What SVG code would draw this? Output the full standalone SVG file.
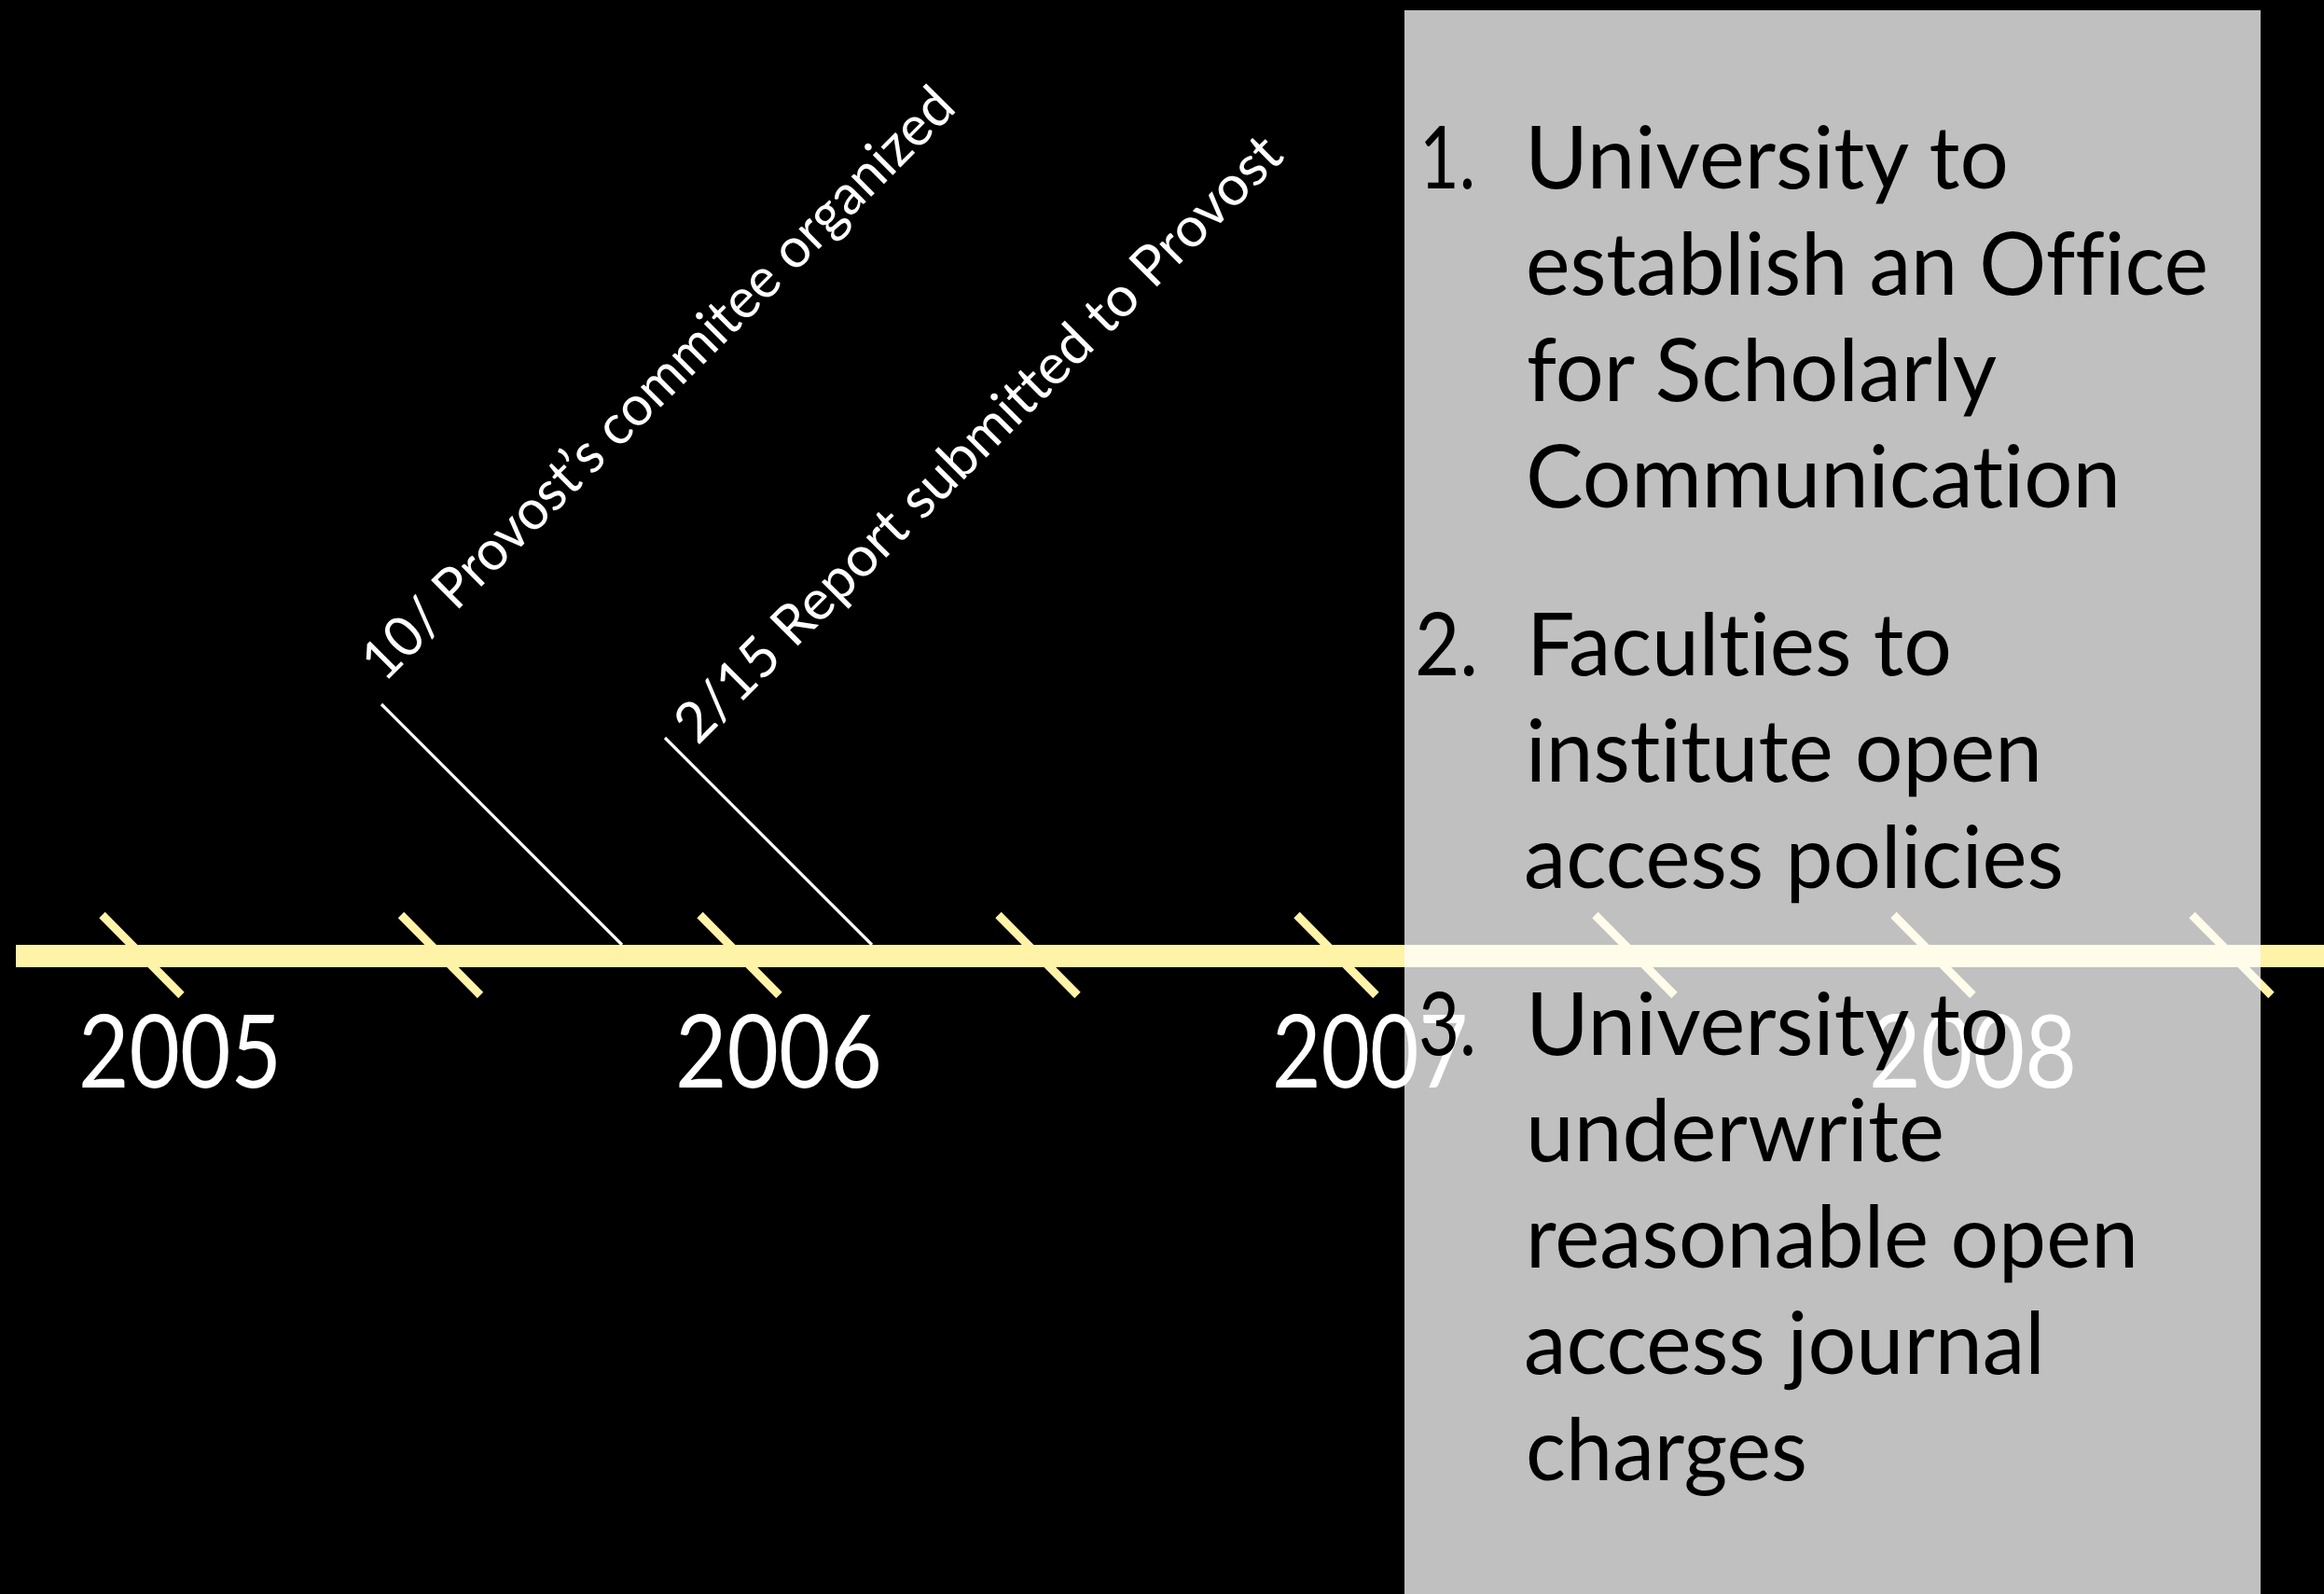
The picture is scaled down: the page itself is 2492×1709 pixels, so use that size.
<svg xmlns="http://www.w3.org/2000/svg" width="2492" height="1709" viewBox="0 0 2492 1709">
<style>
text{font-variant-ligatures:none;font-feature-settings:"liga" 0,"clig" 0}
.tick{stroke:#FFF3A8;stroke-width:9;stroke-linecap:butt}
.evt{stroke:#FFFFFF;stroke-width:3.2;stroke-linecap:butt}
.year{font-family:Lato,"Liberation Sans",sans-serif;font-size:108px;fill:#FFFFFF}
.rot{font-family:Lato,"Liberation Sans",sans-serif;font-size:60px;fill:#FFFFFF}
.item{font-family:Lato,"Liberation Sans",sans-serif;font-size:93px;fill:#000000}
</style>
<rect id="background" x="0" y="0" width="2492" height="1709" fill="#000000"/>
<g id="timeline">
<rect x="17" y="1013" width="2475" height="24" fill="#FFF3A8"/>
<line class="tick" x1="109.5" y1="981" x2="194.5" y2="1067"/>
<line class="tick" x1="430" y1="981" x2="515" y2="1067"/>
<line class="tick" x1="750.5" y1="981" x2="835.5" y2="1067"/>
<line class="tick" x1="1070.5" y1="981" x2="1155.5" y2="1067"/>
<line class="tick" x1="1390.5" y1="981" x2="1475.5" y2="1067"/>
<line class="tick" x1="1710.5" y1="981" x2="1795.5" y2="1067"/>
<line class="tick" x1="2030.5" y1="981" x2="2115.5" y2="1067"/>
<line class="tick" x1="2350.5" y1="981" x2="2435.5" y2="1067"/>
</g>
<g id="connectors">
<line class="evt" x1="409" y1="755" x2="667" y2="1013"/>
<line class="evt" x1="713" y1="791" x2="935" y2="1013"/>
</g>
<g id="event-1">
<text class="rot" transform="translate(412,733) rotate(-45)" x="0" y="0" textLength="870" lengthAdjust="spacingAndGlyphs">10/ Provost’s commitee organized</text>
</g>
<g id="event-2">
<text class="rot" transform="translate(748,800) rotate(-45)" x="0" y="0" textLength="892" lengthAdjust="spacingAndGlyphs">2/15 Report submitted to Provost</text>
</g>
<g id="years">
<text class="year" x="84" y="1166" textLength="218" lengthAdjust="spacingAndGlyphs">2005</text>
<text class="year" x="724" y="1166" textLength="222" lengthAdjust="spacingAndGlyphs">2006</text>
<text class="year" x="1364" y="1166" textLength="210" lengthAdjust="spacingAndGlyphs">2007</text>
<text class="year" x="2004" y="1166" textLength="223" lengthAdjust="spacingAndGlyphs">2008</text>
</g>
<g id="panel">
<rect x="1506" y="11" width="918" height="1698" fill="#C0C0C0" style="mix-blend-mode:screen"/>
<text class="item" x="1522" y="202" textLength="60" lengthAdjust="spacingAndGlyphs">1.</text>
<text class="item" x="1635" y="202" textLength="519" lengthAdjust="spacingAndGlyphs">University to</text>
<text class="item" x="1636" y="316" textLength="732" lengthAdjust="spacingAndGlyphs">establish an Office</text>
<text class="item" x="1637" y="430" textLength="504" lengthAdjust="spacingAndGlyphs">for Scholarly</text>
<text class="item" x="1636" y="544" textLength="638" lengthAdjust="spacingAndGlyphs">Communication</text>
<text class="item" x="1517" y="724" textLength="68" lengthAdjust="spacingAndGlyphs">2.</text>
<text class="item" x="1637" y="724" textLength="456" lengthAdjust="spacingAndGlyphs">Faculties to</text>
<text class="item" x="1636" y="838" textLength="554" lengthAdjust="spacingAndGlyphs">institute open</text>
<text class="item" x="1634" y="952" textLength="579" lengthAdjust="spacingAndGlyphs">access policies</text>
<text class="item" x="1521" y="1131" textLength="62" lengthAdjust="spacingAndGlyphs">3.</text>
<text class="item" x="1636" y="1131" textLength="518" lengthAdjust="spacingAndGlyphs">University to</text>
<text class="item" x="1636" y="1245" textLength="449" lengthAdjust="spacingAndGlyphs">underwrite</text>
<text class="item" x="1636" y="1359" textLength="657" lengthAdjust="spacingAndGlyphs">reasonable open</text>
<text class="item" x="1634" y="1473" textLength="559" lengthAdjust="spacingAndGlyphs">access journal</text>
<text class="item" x="1636" y="1587" textLength="302" lengthAdjust="spacingAndGlyphs">charges</text>
</g>
</svg>
